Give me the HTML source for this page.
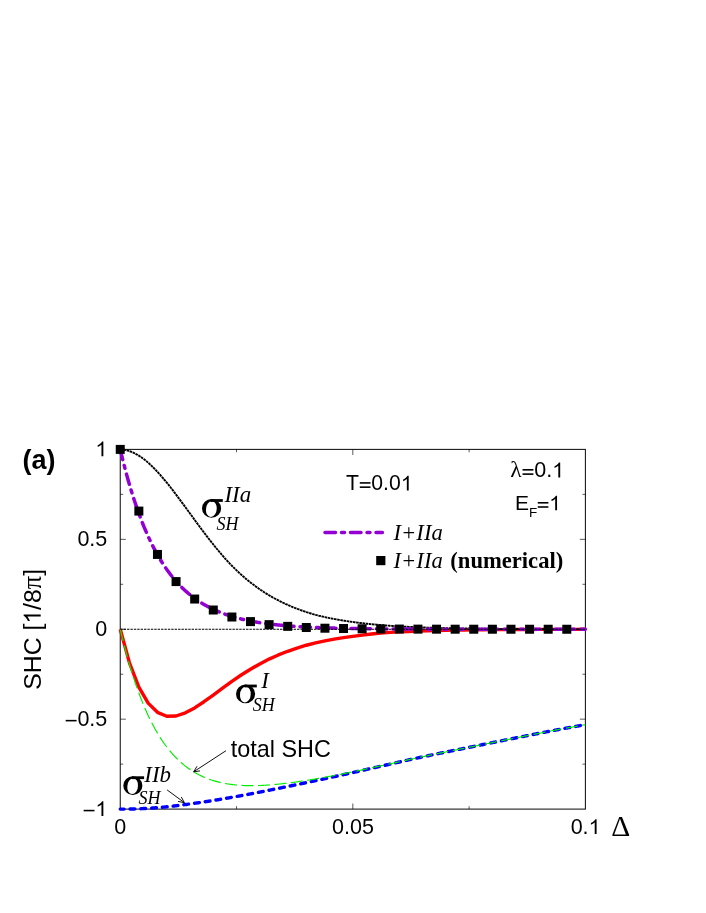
<!DOCTYPE html>
<html><head><meta charset="utf-8"><title>SHC</title>
<style>html,body{margin:0;padding:0;background:#fff;}svg{display:block;}svg{will-change:transform;}text{font-kerning:normal;}</style></head>
<body>
<svg width="706" height="913" viewBox="0 0 706 913">
<rect x="0" y="0" width="706" height="913" fill="#fff"/>
<rect x="120.25" y="449.4" width="465.15" height="359.70" stroke="#111" stroke-width="1.05" fill="none"/>
<g stroke="#000" stroke-width="0.65" fill="none">
<path d="M120.25,764.14 h2.9 M585.4,764.14 h-2.9"/>
<path d="M120.25,719.17 h5.6 M585.4,719.17 h-5.6"/>
<path d="M120.25,674.21 h2.9 M585.4,674.21 h-2.9"/>
<path d="M120.25,629.25 h5.6 M585.4,629.25 h-5.6"/>
<path d="M120.25,584.29 h2.9 M585.4,584.29 h-2.9"/>
<path d="M120.25,539.33 h5.6 M585.4,539.33 h-5.6"/>
<path d="M120.25,494.36 h2.9 M585.4,494.36 h-2.9"/>
<path d="M236.54,809.1 v-2.9 M236.54,449.4 v2.9"/>
<path d="M352.82,809.1 v-5.6 M352.82,449.4 v5.6"/>
<path d="M469.11,809.1 v-2.9 M469.11,449.4 v2.9"/>
</g>
<path d="M120.25,629.25 L129.55,663.15 L138.86,687.22 L148.16,703.13 L157.46,712.32 L166.76,716.24 L176.07,715.99 L185.37,712.84 L194.67,707.89 L203.98,701.74 L213.28,695.07 L222.58,688.14 L231.89,681.30 L241.19,675.01 L250.49,669.21 L259.79,663.90 L269.10,659.11 L278.40,654.94 L287.70,651.27 L297.01,648.03 L306.31,645.24 L315.61,642.84 L324.92,640.81 L334.22,639.11 L343.52,637.67 L352.82,636.39 L362.13,635.14 L371.43,633.97 L380.73,633.06 L390.04,632.41 L399.34,631.88 L408.64,631.44 L417.95,631.07 L427.25,630.76 L436.55,630.51 L445.86,630.30 L455.16,630.13 L464.46,629.98 L473.76,629.86 L483.07,629.76 L492.37,629.67 L501.67,629.60 L510.98,629.54 L520.28,629.49 L529.58,629.45 L538.88,629.42 L548.19,629.39 L557.49,629.37 L566.79,629.35 L576.10,629.33 L585.40,629.32" stroke="#ff0000" stroke-width="3.4" fill="none" stroke-linejoin="round"/>
<path d="M120.25,809.10 L121.18,809.10 L122.11,809.10 L123.04,809.10 L123.97,809.10 L124.90,809.09 L125.83,809.09 L126.76,809.08 L127.69,809.07 L128.62,809.05 L129.55,809.04 L130.48,809.02 L131.41,809.00 L132.34,808.98 L133.27,808.96 L134.20,808.93 L135.13,808.91 L136.07,808.88 L137.00,808.84 L137.93,808.81 L138.86,808.77 L139.79,808.73 L140.72,808.69 L141.65,808.65 L142.58,808.60 L143.51,808.55 L144.44,808.50 L145.37,808.45 L146.30,808.40 L147.23,808.35 L148.16,808.30 L149.09,808.24 L150.02,808.18 L150.95,808.13 L151.88,808.07 L152.81,808.00 L153.74,807.94 L154.67,807.87 L155.60,807.81 L156.53,807.74 L157.46,807.66 L158.39,807.59 L159.32,807.51 L160.25,807.43 L161.18,807.35 L162.11,807.27 L163.04,807.18 L163.97,807.09 L164.90,806.99 L165.83,806.90 L166.76,806.79 L167.70,806.69 L168.63,806.59 L169.56,806.49 L170.49,806.38 L171.42,806.28 L172.35,806.17 L173.28,806.06 L174.21,805.95 L175.14,805.84 L176.07,805.73 L177.00,805.62 L177.93,805.51 L178.86,805.39 L179.79,805.28 L180.72,805.16 L181.65,805.04 L182.58,804.92 L183.51,804.80 L184.44,804.68 L185.37,804.56 L186.30,804.44 L187.23,804.32 L188.16,804.19 L189.09,804.07 L190.02,803.94 L190.95,803.81 L191.88,803.68 L192.81,803.55 L193.74,803.42 L194.67,803.29 L195.60,803.16 L196.53,803.03 L197.46,802.89 L198.40,802.76 L199.33,802.62 L200.26,802.49 L201.19,802.35 L202.12,802.21 L203.05,802.07 L203.98,801.93 L204.91,801.79 L205.84,801.65 L206.77,801.50 L207.70,801.36 L208.63,801.21 L209.56,801.07 L210.49,800.92 L211.42,800.77 L212.35,800.63 L213.28,800.48 L214.21,800.33 L215.14,800.18 L216.07,800.02 L217.00,799.87 L217.93,799.72 L218.86,799.57 L219.79,799.41 L220.72,799.26 L221.65,799.10 L222.58,798.94 L223.51,798.78 L224.44,798.63 L225.37,798.47 L226.30,798.31 L227.23,798.15 L228.16,797.98 L229.10,797.82 L230.03,797.66 L230.96,797.50 L231.89,797.33 L232.82,797.17 L233.75,797.00 L234.68,796.83 L235.61,796.67 L236.54,796.50 L237.47,796.33 L238.40,796.16 L239.33,795.99 L240.26,795.82 L241.19,795.65 L242.12,795.48 L243.05,795.31 L243.98,795.13 L244.91,794.96 L245.84,794.78 L246.77,794.61 L247.70,794.43 L248.63,794.26 L249.56,794.08 L250.49,793.91 L251.42,793.73 L252.35,793.55 L253.28,793.37 L254.21,793.19 L255.14,793.01 L256.07,792.83 L257.00,792.65 L257.93,792.47 L258.86,792.29 L259.80,792.10 L260.73,791.92 L261.66,791.74 L262.59,791.55 L263.52,791.37 L264.45,791.19 L265.38,791.00 L266.31,790.82 L267.24,790.63 L268.17,790.45 L269.10,790.26 L270.03,790.08 L270.96,789.89 L271.89,789.70 L272.82,789.52 L273.75,789.33 L274.68,789.14 L275.61,788.96 L276.54,788.77 L277.47,788.58 L278.40,788.39 L279.33,788.21 L280.26,788.02 L281.19,787.83 L282.12,787.64 L283.05,787.45 L283.98,787.26 L284.91,787.07 L285.84,786.88 L286.77,786.69 L287.70,786.50 L288.63,786.31 L289.56,786.12 L290.49,785.93 L291.43,785.73 L292.36,785.54 L293.29,785.35 L294.22,785.16 L295.15,784.97 L296.08,784.77 L297.01,784.58 L297.94,784.39 L298.87,784.19 L299.80,784.00 L300.73,783.81 L301.66,783.61 L302.59,783.42 L303.52,783.22 L304.45,783.03 L305.38,782.83 L306.31,782.64 L307.24,782.44 L308.17,782.25 L309.10,782.05 L310.03,781.85 L310.96,781.66 L311.89,781.46 L312.82,781.26 L313.75,781.07 L314.68,780.87 L315.61,780.67 L316.54,780.47 L317.47,780.28 L318.40,780.08 L319.33,779.88 L320.26,779.68 L321.19,779.48 L322.13,779.28 L323.06,779.08 L323.99,778.88 L324.92,778.68 L325.85,778.48 L326.78,778.28 L327.71,778.08 L328.64,777.88 L329.57,777.68 L330.50,777.48 L331.43,777.27 L332.36,777.07 L333.29,776.87 L334.22,776.67 L335.15,776.47 L336.08,776.26 L337.01,776.06 L337.94,775.86 L338.87,775.65 L339.80,775.45 L340.73,775.24 L341.66,775.04 L342.59,774.84 L343.52,774.63 L344.45,774.43 L345.38,774.22 L346.31,774.01 L347.24,773.81 L348.17,773.60 L349.10,773.39 L350.03,773.19 L350.96,772.98 L351.89,772.77 L352.82,772.56 L353.76,772.35 L354.69,772.14 L355.62,771.94 L356.55,771.73 L357.48,771.52 L358.41,771.31 L359.34,771.10 L360.27,770.89 L361.20,770.68 L362.13,770.47 L363.06,770.25 L363.99,770.04 L364.92,769.83 L365.85,769.62 L366.78,769.41 L367.71,769.20 L368.64,768.99 L369.57,768.78 L370.50,768.57 L371.43,768.36 L372.36,768.15 L373.29,767.94 L374.22,767.73 L375.15,767.51 L376.08,767.30 L377.01,767.09 L377.94,766.88 L378.87,766.67 L379.80,766.46 L380.73,766.26 L381.66,766.05 L382.59,765.84 L383.52,765.63 L384.46,765.41 L385.39,765.20 L386.32,764.99 L387.25,764.78 L388.18,764.57 L389.11,764.36 L390.04,764.14 L390.97,763.93 L391.90,763.72 L392.83,763.50 L393.76,763.29 L394.69,763.08 L395.62,762.87 L396.55,762.65 L397.48,762.44 L398.41,762.23 L399.34,762.02 L400.27,761.80 L401.20,761.59 L402.13,761.38 L403.06,761.17 L403.99,760.96 L404.92,760.75 L405.85,760.54 L406.78,760.33 L407.71,760.12 L408.64,759.91 L409.57,759.70 L410.50,759.50 L411.43,759.29 L412.36,759.08 L413.29,758.88 L414.22,758.67 L415.16,758.47 L416.09,758.27 L417.02,758.07 L417.95,757.86 L418.88,757.66 L419.81,757.47 L420.74,757.27 L421.67,757.07 L422.60,756.87 L423.53,756.68 L424.46,756.48 L425.39,756.29 L426.32,756.09 L427.25,755.90 L428.18,755.71 L429.11,755.51 L430.04,755.32 L430.97,755.12 L431.90,754.93 L432.83,754.74 L433.76,754.54 L434.69,754.35 L435.62,754.16 L436.55,753.97 L437.48,753.78 L438.41,753.58 L439.34,753.39 L440.27,753.20 L441.20,753.01 L442.13,752.82 L443.06,752.63 L443.99,752.44 L444.92,752.25 L445.86,752.06 L446.79,751.87 L447.72,751.68 L448.65,751.49 L449.58,751.30 L450.51,751.11 L451.44,750.92 L452.37,750.74 L453.30,750.55 L454.23,750.36 L455.16,750.17 L456.09,749.99 L457.02,749.80 L457.95,749.61 L458.88,749.43 L459.81,749.24 L460.74,749.06 L461.67,748.87 L462.60,748.68 L463.53,748.50 L464.46,748.31 L465.39,748.12 L466.32,747.93 L467.25,747.74 L468.18,747.55 L469.11,747.37 L470.04,747.18 L470.97,746.99 L471.90,746.80 L472.83,746.61 L473.76,746.42 L474.69,746.23 L475.62,746.04 L476.55,745.85 L477.49,745.66 L478.42,745.47 L479.35,745.28 L480.28,745.09 L481.21,744.90 L482.14,744.71 L483.07,744.52 L484.00,744.33 L484.93,744.14 L485.86,743.95 L486.79,743.76 L487.72,743.57 L488.65,743.38 L489.58,743.19 L490.51,743.00 L491.44,742.81 L492.37,742.62 L493.30,742.44 L494.23,742.25 L495.16,742.06 L496.09,741.87 L497.02,741.68 L497.95,741.50 L498.88,741.31 L499.81,741.13 L500.74,740.94 L501.67,740.76 L502.60,740.57 L503.53,740.39 L504.46,740.20 L505.39,740.01 L506.32,739.83 L507.25,739.64 L508.19,739.46 L509.12,739.27 L510.05,739.09 L510.98,738.90 L511.91,738.71 L512.84,738.53 L513.77,738.34 L514.70,738.16 L515.63,737.97 L516.56,737.78 L517.49,737.60 L518.42,737.41 L519.35,737.23 L520.28,737.04 L521.21,736.85 L522.14,736.67 L523.07,736.48 L524.00,736.30 L524.93,736.11 L525.86,735.92 L526.79,735.74 L527.72,735.55 L528.65,735.37 L529.58,735.18 L530.51,735.00 L531.44,734.81 L532.37,734.63 L533.30,734.44 L534.23,734.26 L535.16,734.08 L536.09,733.89 L537.02,733.71 L537.95,733.52 L538.88,733.34 L539.82,733.16 L540.75,732.98 L541.68,732.79 L542.61,732.61 L543.54,732.43 L544.47,732.25 L545.40,732.07 L546.33,731.89 L547.26,731.70 L548.19,731.52 L549.12,731.34 L550.05,731.16 L550.98,730.99 L551.91,730.81 L552.84,730.63 L553.77,730.45 L554.70,730.27 L555.63,730.09 L556.56,729.92 L557.49,729.74 L558.42,729.57 L559.35,729.39 L560.28,729.22 L561.21,729.04 L562.14,728.87 L563.07,728.69 L564.00,728.52 L564.93,728.35 L565.86,728.18 L566.79,728.00 L567.72,727.83 L568.65,727.66 L569.58,727.49 L570.52,727.32 L571.45,727.15 L572.38,726.99 L573.31,726.82 L574.24,726.65 L575.17,726.49 L576.10,726.32 L577.03,726.16 L577.96,725.99 L578.89,725.83 L579.82,725.66 L580.75,725.50 L581.68,725.34 L582.61,725.18 L583.54,725.02 L584.47,724.86 L585.40,724.70" stroke="#0000ff" stroke-width="3.4" stroke-dasharray="4.8 6" stroke-dashoffset="1" stroke-linecap="round" fill="none"/>
<path d="M120.25,629.25 L121.18,633.17 L122.11,637.00 L123.04,640.75 L123.97,644.42 L124.90,648.00 L125.83,651.50 L126.76,654.93 L127.69,658.27 L128.62,661.55 L129.55,664.74 L130.48,667.87 L131.41,670.93 L132.34,673.91 L133.27,676.83 L134.20,679.69 L135.13,682.48 L136.07,685.20 L137.00,687.86 L137.93,690.46 L138.86,693.00 L139.79,695.49 L140.72,697.91 L141.65,700.28 L142.58,702.59 L143.51,704.86 L144.44,707.07 L145.37,709.23 L146.30,711.34 L147.23,713.40 L148.16,715.41 L149.09,717.38 L150.02,719.31 L150.95,721.18 L151.88,723.02 L152.81,724.81 L153.74,726.56 L154.67,728.26 L155.60,729.93 L156.53,731.56 L157.46,733.14 L158.39,734.69 L159.32,736.20 L160.25,737.68 L161.18,739.12 L162.11,740.52 L163.04,741.88 L163.97,743.21 L164.90,744.51 L165.83,745.78 L166.76,747.01 L167.70,748.21 L168.63,749.38 L169.56,750.52 L170.49,751.64 L171.42,752.72 L172.35,753.78 L173.28,754.82 L174.21,755.82 L175.14,756.81 L176.07,757.76 L177.00,758.70 L177.93,759.60 L178.86,760.49 L179.79,761.35 L180.72,762.19 L181.65,763.01 L182.58,763.81 L183.51,764.59 L184.44,765.34 L185.37,766.08 L186.30,766.79 L187.23,767.49 L188.16,768.17 L189.09,768.83 L190.02,769.47 L190.95,770.09 L191.88,770.70 L192.81,771.29 L193.74,771.86 L194.67,772.42 L195.60,772.96 L196.53,773.48 L197.46,773.99 L198.40,774.49 L199.33,774.97 L200.26,775.43 L201.19,775.88 L202.12,776.32 L203.05,776.75 L203.98,777.16 L204.91,777.55 L205.84,777.94 L206.77,778.31 L207.70,778.68 L208.63,779.02 L209.56,779.36 L210.49,779.69 L211.42,780.00 L212.35,780.31 L213.28,780.60 L214.21,780.88 L215.14,781.16 L216.07,781.42 L217.00,781.67 L217.93,781.92 L218.86,782.15 L219.79,782.38 L220.72,782.59 L221.65,782.80 L222.58,783.00 L223.51,783.19 L224.44,783.37 L225.37,783.54 L226.30,783.71 L227.23,783.86 L228.16,784.01 L229.10,784.15 L230.03,784.29 L230.96,784.42 L231.89,784.54 L232.82,784.65 L233.75,784.76 L234.68,784.86 L235.61,784.95 L236.54,785.04 L237.47,785.12 L238.40,785.20 L239.33,785.26 L240.26,785.33 L241.19,785.39 L242.12,785.44 L243.05,785.48 L243.98,785.52 L244.91,785.56 L245.84,785.59 L246.77,785.62 L247.70,785.64 L248.63,785.65 L249.56,785.66 L250.49,785.67 L251.42,785.67 L252.35,785.67 L253.28,785.66 L254.21,785.65 L255.14,785.63 L256.07,785.61 L257.00,785.59 L257.93,785.56 L258.86,785.53 L259.80,785.50 L260.73,785.46 L261.66,785.42 L262.59,785.37 L263.52,785.32 L264.45,785.27 L265.38,785.21 L266.31,785.15 L267.24,785.09 L268.17,785.03 L269.10,784.96 L270.03,784.89 L270.96,784.82 L271.89,784.74 L272.82,784.66 L273.75,784.58 L274.68,784.50 L275.61,784.41 L276.54,784.32 L277.47,784.23 L278.40,784.14 L279.33,784.04 L280.26,783.95 L281.19,783.85 L282.12,783.74 L283.05,783.64 L283.98,783.53 L284.91,783.42 L285.84,783.31 L286.77,783.20 L287.70,783.09 L288.63,782.97 L289.56,782.85 L290.49,782.73 L291.43,782.61 L292.36,782.49 L293.29,782.36 L294.22,782.23 L295.15,782.11 L296.08,781.97 L297.01,781.84 L297.94,781.71 L298.87,781.57 L299.80,781.44 L300.73,781.30 L301.66,781.16 L302.59,781.02 L303.52,780.88 L304.45,780.73 L305.38,780.59 L306.31,780.44 L307.24,780.29 L308.17,780.14 L309.10,779.99 L310.03,779.84 L310.96,779.69 L311.89,779.54 L312.82,779.38 L313.75,779.22 L314.68,779.07 L315.61,778.91 L316.54,778.75 L317.47,778.59 L318.40,778.43 L319.33,778.26 L320.26,778.10 L321.19,777.94 L322.13,777.77 L323.06,777.60 L323.99,777.44 L324.92,777.27 L325.85,777.10 L326.78,776.93 L327.71,776.76 L328.64,776.58 L329.57,776.41 L330.50,776.24 L331.43,776.06 L332.36,775.89 L333.29,775.71 L334.22,775.53 L335.15,775.36 L336.08,775.18 L337.01,775.00 L337.94,774.82 L338.87,774.64 L339.80,774.46 L340.73,774.27 L341.66,774.09 L342.59,773.91 L343.52,773.72 L344.45,773.54 L345.38,773.35 L346.31,773.16 L347.24,772.97 L348.17,772.79 L349.10,772.60 L350.03,772.41 L350.96,772.22 L351.89,772.02 L352.82,771.83 L353.76,771.64 L354.69,771.45 L355.62,771.25 L356.55,771.06 L357.48,770.86 L358.41,770.67 L359.34,770.47 L360.27,770.27 L361.20,770.08 L362.13,769.88 L363.06,769.68 L363.99,769.48 L364.92,769.28 L365.85,769.09 L366.78,768.89 L367.71,768.69 L368.64,768.49 L369.57,768.29 L370.50,768.09 L371.43,767.89 L372.36,767.69 L373.29,767.49 L374.22,767.29 L375.15,767.08 L376.08,766.88 L377.01,766.68 L377.94,766.48 L378.87,766.28 L379.80,766.08 L380.73,765.88 L381.66,765.68 L382.59,765.48 L383.52,765.27 L384.46,765.07 L385.39,764.87 L386.32,764.66 L387.25,764.46 L388.18,764.25 L389.11,764.05 L390.04,763.84 L390.97,763.63 L391.90,763.43 L392.83,763.22 L393.76,763.01 L394.69,762.81 L395.62,762.60 L396.55,762.39 L397.48,762.19 L398.41,761.98 L399.34,761.77 L400.27,761.57 L401.20,761.36 L402.13,761.15 L403.06,760.95 L403.99,760.74 L404.92,760.54 L405.85,760.33 L406.78,760.13 L407.71,759.92 L408.64,759.72 L409.57,759.51 L410.50,759.31 L411.43,759.11 L412.36,758.91 L413.29,758.70 L414.22,758.50 L415.16,758.30 L416.09,758.10 L417.02,757.91 L417.95,757.71 L418.88,757.51 L419.81,757.32 L420.74,757.12 L421.67,756.93 L422.60,756.73 L423.53,756.54 L424.46,756.35 L425.39,756.16 L426.32,755.97 L427.25,755.77 L428.18,755.58 L429.11,755.39 L430.04,755.20 L430.97,755.01 L431.90,754.82 L432.83,754.63 L433.76,754.44 L434.69,754.25 L435.62,754.06 L436.55,753.87 L437.48,753.68 L438.41,753.49 L439.34,753.30 L440.27,753.11 L441.20,752.92 L442.13,752.73 L443.06,752.54 L443.99,752.35 L444.92,752.17 L445.86,751.98 L446.79,751.79 L447.72,751.60 L448.65,751.41 L449.58,751.23 L450.51,751.04 L451.44,750.85 L452.37,750.67 L453.30,750.48 L454.23,750.30 L455.16,750.11 L456.09,749.92 L457.02,749.74 L457.95,749.55 L458.88,749.37 L459.81,749.18 L460.74,749.00 L461.67,748.81 L462.60,748.63 L463.53,748.44 L464.46,748.26 L465.39,748.07 L466.32,747.88 L467.25,747.69 L468.18,747.51 L469.11,747.32 L470.04,747.13 L470.97,746.94 L471.90,746.75 L472.83,746.57 L473.76,746.38 L474.69,746.19 L475.62,746.00 L476.55,745.81 L477.49,745.62 L478.42,745.43 L479.35,745.24 L480.28,745.05 L481.21,744.86 L482.14,744.67 L483.07,744.48 L484.00,744.29 L484.93,744.11 L485.86,743.92 L486.79,743.73 L487.72,743.54 L488.65,743.35 L489.58,743.16 L490.51,742.97 L491.44,742.78 L492.37,742.60 L493.30,742.41 L494.23,742.22 L495.16,742.03 L496.09,741.85 L497.02,741.66 L497.95,741.47 L498.88,741.29 L499.81,741.10 L500.74,740.92 L501.67,740.73 L502.60,740.55 L503.53,740.36 L504.46,740.18 L505.39,739.99 L506.32,739.81 L507.25,739.62 L508.19,739.44 L509.12,739.25 L510.05,739.07 L510.98,738.88 L511.91,738.70 L512.84,738.51 L513.77,738.33 L514.70,738.14 L515.63,737.95 L516.56,737.77 L517.49,737.58 L518.42,737.40 L519.35,737.21 L520.28,737.03 L521.21,736.84 L522.14,736.65 L523.07,736.47 L524.00,736.28 L524.93,736.10 L525.86,735.91 L526.79,735.73 L527.72,735.54 L528.65,735.36 L529.58,735.17 L530.51,734.99 L531.44,734.80 L532.37,734.62 L533.30,734.43 L534.23,734.25 L535.16,734.07 L536.09,733.88 L537.02,733.70 L537.95,733.52 L538.88,733.33 L539.82,733.15 L540.75,732.97 L541.68,732.78 L542.61,732.60 L543.54,732.42 L544.47,732.24 L545.40,732.06 L546.33,731.88 L547.26,731.70 L548.19,731.52 L549.12,731.34 L550.05,731.16 L550.98,730.98 L551.91,730.80 L552.84,730.62 L553.77,730.44 L554.70,730.27 L555.63,730.09 L556.56,729.91 L557.49,729.74 L558.42,729.56 L559.35,729.38 L560.28,729.21 L561.21,729.04 L562.14,728.86 L563.07,728.69 L564.00,728.51 L564.93,728.34 L565.86,728.17 L566.79,728.00 L567.72,727.83 L568.65,727.66 L569.58,727.49 L570.52,727.32 L571.45,727.15 L572.38,726.98 L573.31,726.81 L574.24,726.65 L575.17,726.48 L576.10,726.32 L577.03,726.15 L577.96,725.99 L578.89,725.82 L579.82,725.66 L580.75,725.50 L581.68,725.34 L582.61,725.18 L583.54,725.02 L584.47,724.86 L585.40,724.70" stroke="#00ee00" stroke-width="1.15" stroke-dasharray="12 4.5" fill="none"/>
<path d="M120.25,449.40 L121.18,449.44 L122.11,449.52 L123.04,449.62 L123.97,449.75 L124.90,449.92 L125.83,450.11 L126.76,450.33 L127.69,450.57 L128.62,450.85 L129.55,451.16 L130.48,451.49 L131.41,451.85 L132.34,452.24 L133.27,452.65 L134.20,453.09 L135.13,453.56 L136.07,454.05 L137.00,454.56 L137.93,455.11 L138.86,455.67 L139.79,456.26 L140.72,456.88 L141.65,457.52 L142.58,458.19 L143.51,458.88 L144.44,459.59 L145.37,460.33 L146.30,461.09 L147.23,461.88 L148.16,462.68 L149.09,463.51 L150.02,464.36 L150.95,465.23 L151.88,466.12 L152.81,467.03 L153.74,467.96 L154.67,468.91 L155.60,469.87 L156.53,470.86 L157.46,471.86 L158.39,472.87 L159.32,473.90 L160.25,474.95 L161.18,476.01 L162.11,477.08 L163.04,478.17 L163.97,479.26 L164.90,480.37 L165.83,481.49 L166.76,482.62 L167.70,483.77 L168.63,484.93 L169.56,486.10 L170.49,487.28 L171.42,488.47 L172.35,489.68 L173.28,490.89 L174.21,492.12 L175.14,493.35 L176.07,494.60 L177.00,495.84 L177.93,497.09 L178.86,498.35 L179.79,499.60 L180.72,500.86 L181.65,502.12 L182.58,503.38 L183.51,504.65 L184.44,505.91 L185.37,507.18 L186.30,508.44 L187.23,509.70 L188.16,510.97 L189.09,512.24 L190.02,513.51 L190.95,514.79 L191.88,516.06 L192.81,517.34 L193.74,518.63 L194.67,519.91 L195.60,521.19 L196.53,522.47 L197.46,523.75 L198.40,525.02 L199.33,526.28 L200.26,527.54 L201.19,528.78 L202.12,530.02 L203.05,531.26 L203.98,532.49 L204.91,533.72 L205.84,534.93 L206.77,536.15 L207.70,537.35 L208.63,538.55 L209.56,539.75 L210.49,540.93 L211.42,542.11 L212.35,543.28 L213.28,544.44 L214.21,545.59 L215.14,546.74 L216.07,547.88 L217.00,549.01 L217.93,550.13 L218.86,551.25 L219.79,552.36 L220.72,553.46 L221.65,554.54 L222.58,555.62 L223.51,556.68 L224.44,557.74 L225.37,558.78 L226.30,559.81 L227.23,560.83 L228.16,561.84 L229.10,562.83 L230.03,563.82 L230.96,564.79 L231.89,565.74 L232.82,566.69 L233.75,567.62 L234.68,568.54 L235.61,569.44 L236.54,570.34 L237.47,571.22 L238.40,572.08 L239.33,572.94 L240.26,573.79 L241.19,574.63 L242.12,575.45 L243.05,576.27 L243.98,577.07 L244.91,577.87 L245.84,578.65 L246.77,579.42 L247.70,580.19 L248.63,580.94 L249.56,581.69 L250.49,582.42 L251.42,583.15 L252.35,583.87 L253.28,584.57 L254.21,585.27 L255.14,585.96 L256.07,586.65 L257.00,587.32 L257.93,587.99 L258.86,588.65 L259.80,589.30 L260.73,589.94 L261.66,590.57 L262.59,591.20 L263.52,591.81 L264.45,592.42 L265.38,593.02 L266.31,593.60 L267.24,594.18 L268.17,594.75 L269.10,595.31 L270.03,595.86 L270.96,596.40 L271.89,596.93 L272.82,597.46 L273.75,597.97 L274.68,598.48 L275.61,598.98 L276.54,599.47 L277.47,599.96 L278.40,600.44 L279.33,600.91 L280.26,601.38 L281.19,601.84 L282.12,602.29 L283.05,602.74 L283.98,603.18 L284.91,603.62 L285.84,604.05 L286.77,604.47 L287.70,604.90 L288.63,605.31 L289.56,605.72 L290.49,606.12 L291.43,606.52 L292.36,606.91 L293.29,607.30 L294.22,607.67 L295.15,608.05 L296.08,608.41 L297.01,608.77 L297.94,609.13 L298.87,609.48 L299.80,609.82 L300.73,610.16 L301.66,610.49 L302.59,610.81 L303.52,611.14 L304.45,611.45 L305.38,611.76 L306.31,612.07 L307.24,612.37 L308.17,612.66 L309.10,612.95 L310.03,613.24 L310.96,613.51 L311.89,613.79 L312.82,614.06 L313.75,614.32 L314.68,614.58 L315.61,614.83 L316.54,615.08 L317.47,615.32 L318.40,615.56 L319.33,615.80 L320.26,616.03 L321.19,616.25 L322.13,616.47 L323.06,616.69 L323.99,616.91 L324.92,617.12 L325.85,617.32 L326.78,617.52 L327.71,617.72 L328.64,617.92 L329.57,618.11 L330.50,618.30 L331.43,618.48 L332.36,618.66 L333.29,618.84 L334.22,619.02 L335.15,619.19 L336.08,619.36 L337.01,619.52 L337.94,619.69 L338.87,619.85 L339.80,620.01 L340.73,620.16 L341.66,620.31 L342.59,620.47 L343.52,620.61 L344.45,620.76 L345.38,620.90 L346.31,621.05 L347.24,621.18 L348.17,621.32 L349.10,621.46 L350.03,621.59 L350.96,621.72 L351.89,621.85 L352.82,621.98 L353.76,622.11 L354.69,622.24 L355.62,622.36 L356.55,622.48 L357.48,622.60 L358.41,622.72 L359.34,622.83 L360.27,622.95 L361.20,623.06 L362.13,623.17 L363.06,623.28 L363.99,623.39 L364.92,623.49 L365.85,623.60 L366.78,623.70 L367.71,623.80 L368.64,623.90 L369.57,624.00 L370.50,624.10 L371.43,624.19 L372.36,624.28 L373.29,624.38 L374.22,624.47 L375.15,624.56 L376.08,624.64 L377.01,624.73 L377.94,624.81 L378.87,624.90 L379.80,624.98 L380.73,625.06 L381.66,625.14 L382.59,625.22 L383.52,625.29 L384.46,625.37 L385.39,625.44 L386.32,625.51 L387.25,625.58 L388.18,625.65 L389.11,625.72 L390.04,625.79 L390.97,625.85 L391.90,625.92 L392.83,625.98 L393.76,626.04 L394.69,626.10 L395.62,626.16 L396.55,626.22 L397.48,626.27 L398.41,626.33 L399.34,626.38 L400.27,626.43 L401.20,626.49 L402.13,626.54 L403.06,626.59 L403.99,626.64 L404.92,626.68 L405.85,626.73 L406.78,626.78 L407.71,626.82 L408.64,626.87 L409.57,626.91 L410.50,626.95 L411.43,627.00 L412.36,627.04 L413.29,627.08 L414.22,627.12 L415.16,627.16 L416.09,627.20 L417.02,627.24 L417.95,627.27 L418.88,627.31 L419.81,627.35 L420.74,627.38 L421.67,627.42 L422.60,627.45 L423.53,627.48 L424.46,627.52 L425.39,627.55 L426.32,627.58 L427.25,627.61 L428.18,627.64 L429.11,627.67 L430.04,627.70 L430.97,627.73 L431.90,627.76 L432.83,627.78 L433.76,627.81 L434.69,627.84 L435.62,627.86 L436.55,627.89 L437.48,627.91 L438.41,627.94 L439.34,627.96 L440.27,627.99 L441.20,628.01 L442.13,628.03 L443.06,628.06 L443.99,628.08 L444.92,628.10 L445.86,628.12 L446.79,628.14 L447.72,628.16 L448.65,628.18 L449.58,628.20 L450.51,628.22 L451.44,628.24 L452.37,628.26 L453.30,628.27 L454.23,628.29 L455.16,628.31 L456.09,628.33 L457.02,628.34 L457.95,628.36 L458.88,628.38 L459.81,628.39 L460.74,628.41 L461.67,628.42 L462.60,628.44 L463.53,628.45 L464.46,628.47 L465.39,628.48 L466.32,628.50 L467.25,628.51 L468.18,628.52 L469.11,628.54 L470.04,628.55 L470.97,628.56 L471.90,628.58 L472.83,628.59 L473.76,628.60 L474.69,628.61 L475.62,628.62 L476.55,628.64 L477.49,628.65 L478.42,628.66 L479.35,628.67 L480.28,628.68 L481.21,628.69 L482.14,628.70 L483.07,628.71 L484.00,628.72 L484.93,628.73 L485.86,628.74 L486.79,628.75 L487.72,628.76 L488.65,628.77 L489.58,628.78 L490.51,628.78 L491.44,628.79 L492.37,628.80 L493.30,628.81 L494.23,628.82 L495.16,628.83 L496.09,628.83 L497.02,628.84 L497.95,628.85 L498.88,628.86 L499.81,628.86 L500.74,628.87 L501.67,628.88 L502.60,628.88 L503.53,628.89 L504.46,628.90 L505.39,628.90 L506.32,628.91 L507.25,628.92 L508.19,628.92 L509.12,628.93 L510.05,628.93 L510.98,628.94 L511.91,628.95 L512.84,628.95 L513.77,628.96 L514.70,628.96 L515.63,628.97 L516.56,628.97 L517.49,628.98 L518.42,628.98 L519.35,628.99 L520.28,628.99 L521.21,629.00 L522.14,629.00 L523.07,629.01 L524.00,629.01 L524.93,629.01 L525.86,629.02 L526.79,629.02 L527.72,629.03 L528.65,629.03 L529.58,629.04 L530.51,629.04 L531.44,629.04 L532.37,629.05 L533.30,629.05 L534.23,629.05 L535.16,629.06 L536.09,629.06 L537.02,629.07 L537.95,629.07 L538.88,629.07 L539.82,629.08 L540.75,629.08 L541.68,629.08 L542.61,629.08 L543.54,629.09 L544.47,629.09 L545.40,629.09 L546.33,629.10 L547.26,629.10 L548.19,629.10 L549.12,629.10 L550.05,629.11 L550.98,629.11 L551.91,629.11 L552.84,629.11 L553.77,629.12 L554.70,629.12 L555.63,629.12 L556.56,629.12 L557.49,629.13 L558.42,629.13 L559.35,629.13 L560.28,629.13 L561.21,629.14 L562.14,629.14 L563.07,629.14 L564.00,629.14 L564.93,629.14 L565.86,629.15 L566.79,629.15 L567.72,629.15 L568.65,629.15 L569.58,629.15 L570.52,629.15 L571.45,629.16 L572.38,629.16 L573.31,629.16 L574.24,629.16 L575.17,629.16 L576.10,629.16 L577.03,629.17 L577.96,629.17 L578.89,629.17 L579.82,629.17 L580.75,629.17 L581.68,629.17 L582.61,629.18 L583.54,629.18 L584.47,629.18 L585.40,629.18" stroke="#000" stroke-width="1.9" stroke-dasharray="2.6 0.6" fill="none"/>
<path d="M120.25,449.40 L121.18,453.32 L122.11,457.15 L123.04,460.90 L123.97,464.57 L124.90,468.16 L125.83,471.67 L126.76,475.10 L127.69,478.46 L128.62,481.74 L129.55,484.96 L130.48,488.10 L131.41,491.17 L132.34,494.18 L133.27,497.12 L134.20,500.00 L135.13,502.82 L136.07,505.57 L137.00,508.27 L137.93,510.90 L138.86,513.48 L139.79,516.00 L140.72,518.47 L141.65,520.88 L142.58,523.24 L143.51,525.55 L144.44,527.81 L145.37,530.02 L146.30,532.18 L147.23,534.30 L148.16,536.37 L149.09,538.39 L150.02,540.37 L150.95,542.31 L151.88,544.20 L152.81,546.05 L153.74,547.87 L154.67,549.64 L155.60,551.37 L156.53,553.07 L157.46,554.73 L158.39,556.35 L159.32,557.94 L160.25,559.50 L161.18,561.01 L162.11,562.50 L163.04,563.96 L163.97,565.38 L164.90,566.77 L165.83,568.13 L166.76,569.46 L167.70,570.76 L168.63,572.04 L169.56,573.29 L170.49,574.50 L171.42,575.70 L172.35,576.86 L173.28,578.01 L174.21,579.12 L175.14,580.21 L176.07,581.28 L177.00,582.33 L177.93,583.35 L178.86,584.35 L179.79,585.33 L180.72,586.28 L181.65,587.22 L182.58,588.14 L183.51,589.03 L184.44,589.91 L185.37,590.76 L186.30,591.60 L187.23,592.42 L188.16,593.23 L189.09,594.01 L190.02,594.78 L190.95,595.53 L191.88,596.26 L192.81,596.98 L193.74,597.69 L194.67,598.37 L195.60,599.05 L196.53,599.70 L197.46,600.35 L198.40,600.98 L199.33,601.59 L200.26,602.20 L201.19,602.78 L202.12,603.36 L203.05,603.93 L203.98,604.48 L204.91,605.02 L205.84,605.54 L206.77,606.06 L207.70,606.57 L208.63,607.06 L209.56,607.54 L210.49,608.02 L211.42,608.48 L212.35,608.93 L213.28,609.37 L214.21,609.81 L215.14,610.23 L216.07,610.65 L217.00,611.05 L217.93,611.45 L218.86,611.84 L219.79,612.21 L220.72,612.59 L221.65,612.95 L222.58,613.30 L223.51,613.65 L224.44,613.99 L225.37,614.32 L226.30,614.65 L227.23,614.97 L228.16,615.28 L229.10,615.58 L230.03,615.88 L230.96,616.17 L231.89,616.46 L232.82,616.74 L233.75,617.01 L234.68,617.27 L235.61,617.54 L236.54,617.79 L237.47,618.04 L238.40,618.28 L239.33,618.52 L240.26,618.76 L241.19,618.99 L242.12,619.21 L243.05,619.43 L243.98,619.64 L244.91,619.85 L245.84,620.06 L246.77,620.26 L247.70,620.45 L248.63,620.64 L249.56,620.83 L250.49,621.01 L251.42,621.19 L252.35,621.37 L253.28,621.54 L254.21,621.71 L255.14,621.87 L256.07,622.03 L257.00,622.19 L257.93,622.35 L258.86,622.50 L259.80,622.64 L260.73,622.79 L261.66,622.93 L262.59,623.07 L263.52,623.20 L264.45,623.33 L265.38,623.46 L266.31,623.59 L267.24,623.71 L268.17,623.83 L269.10,623.95 L270.03,624.06 L270.96,624.18 L271.89,624.29 L272.82,624.40 L273.75,624.50 L274.68,624.61 L275.61,624.71 L276.54,624.81 L277.47,624.90 L278.40,625.00 L279.33,625.09 L280.26,625.18 L281.19,625.27 L282.12,625.36 L283.05,625.44 L283.98,625.52 L284.91,625.60 L285.84,625.68 L286.77,625.76 L287.70,625.84 L288.63,625.91 L289.56,625.98 L290.49,626.06 L291.43,626.13 L292.36,626.19 L293.29,626.26 L294.22,626.33 L295.15,626.39 L296.08,626.45 L297.01,626.51 L297.94,626.57 L298.87,626.63 L299.80,626.69 L300.73,626.74 L301.66,626.80 L302.59,626.85 L303.52,626.90 L304.45,626.95 L305.38,627.00 L306.31,627.05 L307.24,627.10 L308.17,627.15 L309.10,627.19 L310.03,627.24 L310.96,627.28 L311.89,627.33 L312.82,627.37 L313.75,627.41 L314.68,627.45 L315.61,627.49 L316.54,627.53 L317.47,627.56 L318.40,627.60 L319.33,627.64 L320.26,627.67 L321.19,627.71 L322.13,627.74 L323.06,627.77 L323.99,627.80 L324.92,627.84 L325.85,627.87 L326.78,627.90 L327.71,627.93 L328.64,627.96 L329.57,627.98 L330.50,628.01 L331.43,628.04 L332.36,628.06 L333.29,628.09 L334.22,628.12 L335.15,628.14 L336.08,628.16 L337.01,628.19 L337.94,628.21 L338.87,628.23 L339.80,628.26 L340.73,628.28 L341.66,628.30 L342.59,628.32 L343.52,628.34 L344.45,628.36 L345.38,628.38 L346.31,628.40 L347.24,628.42 L348.17,628.43 L349.10,628.45 L350.03,628.47 L350.96,628.49 L351.89,628.50 L352.82,628.52 L353.76,628.54 L354.69,628.55 L355.62,628.57 L356.55,628.58 L357.48,628.60 L358.41,628.61 L359.34,628.62 L360.27,628.64 L361.20,628.65 L362.13,628.66 L363.06,628.68 L363.99,628.69 L364.92,628.70 L365.85,628.71 L366.78,628.73 L367.71,628.74 L368.64,628.75 L369.57,628.76 L370.50,628.77 L371.43,628.78 L372.36,628.79 L373.29,628.80 L374.22,628.81 L375.15,628.82 L376.08,628.83 L377.01,628.84 L377.94,628.85 L378.87,628.86 L379.80,628.86 L380.73,628.87 L381.66,628.88 L382.59,628.89 L383.52,628.90 L384.46,628.90 L385.39,628.91 L386.32,628.92 L387.25,628.93 L388.18,628.93 L389.11,628.94 L390.04,628.95 L390.97,628.95 L391.90,628.96 L392.83,628.97 L393.76,628.97 L394.69,628.98 L395.62,628.98 L396.55,628.99 L397.48,629.00 L398.41,629.00 L399.34,629.01 L400.27,629.01 L401.20,629.02 L402.13,629.02 L403.06,629.03 L403.99,629.03 L404.92,629.04 L405.85,629.04 L406.78,629.05 L407.71,629.05 L408.64,629.06 L409.57,629.06 L410.50,629.06 L411.43,629.07 L412.36,629.07 L413.29,629.08 L414.22,629.08 L415.16,629.08 L416.09,629.09 L417.02,629.09 L417.95,629.09 L418.88,629.10 L419.81,629.10 L420.74,629.10 L421.67,629.11 L422.60,629.11 L423.53,629.11 L424.46,629.12 L425.39,629.12 L426.32,629.12 L427.25,629.12 L428.18,629.13 L429.11,629.13 L430.04,629.13 L430.97,629.14 L431.90,629.14 L432.83,629.14 L433.76,629.14 L434.69,629.14 L435.62,629.15 L436.55,629.15 L437.48,629.15 L438.41,629.15 L439.34,629.16 L440.27,629.16 L441.20,629.16 L442.13,629.16 L443.06,629.16 L443.99,629.17 L444.92,629.17 L445.86,629.17 L446.79,629.17 L447.72,629.17 L448.65,629.17 L449.58,629.18 L450.51,629.18 L451.44,629.18 L452.37,629.18 L453.30,629.18 L454.23,629.18 L455.16,629.19 L456.09,629.19 L457.02,629.19 L457.95,629.19 L458.88,629.19 L459.81,629.19 L460.74,629.19 L461.67,629.19 L462.60,629.20 L463.53,629.20 L464.46,629.20 L465.39,629.20 L466.32,629.20 L467.25,629.20 L468.18,629.20 L469.11,629.20 L470.04,629.20 L470.97,629.21 L471.90,629.21 L472.83,629.21 L473.76,629.21 L474.69,629.21 L475.62,629.21 L476.55,629.21 L477.49,629.21 L478.42,629.21 L479.35,629.21 L480.28,629.21 L481.21,629.22 L482.14,629.22 L483.07,629.22 L484.00,629.22 L484.93,629.22 L485.86,629.22 L486.79,629.22 L487.72,629.22 L488.65,629.22 L489.58,629.22 L490.51,629.22 L491.44,629.22 L492.37,629.22 L493.30,629.22 L494.23,629.22 L495.16,629.22 L496.09,629.23 L497.02,629.23 L497.95,629.23 L498.88,629.23 L499.81,629.23 L500.74,629.23 L501.67,629.23 L502.60,629.23 L503.53,629.23 L504.46,629.23 L505.39,629.23 L506.32,629.23 L507.25,629.23 L508.19,629.23 L509.12,629.23 L510.05,629.23 L510.98,629.23 L511.91,629.23 L512.84,629.23 L513.77,629.23 L514.70,629.23 L515.63,629.23 L516.56,629.23 L517.49,629.24 L518.42,629.24 L519.35,629.24 L520.28,629.24 L521.21,629.24 L522.14,629.24 L523.07,629.24 L524.00,629.24 L524.93,629.24 L525.86,629.24 L526.79,629.24 L527.72,629.24 L528.65,629.24 L529.58,629.24 L530.51,629.24 L531.44,629.24 L532.37,629.24 L533.30,629.24 L534.23,629.24 L535.16,629.24 L536.09,629.24 L537.02,629.24 L537.95,629.24 L538.88,629.24 L539.82,629.24 L540.75,629.24 L541.68,629.24 L542.61,629.24 L543.54,629.24 L544.47,629.24 L545.40,629.24 L546.33,629.24 L547.26,629.24 L548.19,629.24 L549.12,629.24 L550.05,629.24 L550.98,629.24 L551.91,629.24 L552.84,629.24 L553.77,629.24 L554.70,629.24 L555.63,629.24 L556.56,629.24 L557.49,629.24 L558.42,629.24 L559.35,629.24 L560.28,629.24 L561.21,629.24 L562.14,629.24 L563.07,629.24 L564.00,629.25 L564.93,629.25 L565.86,629.25 L566.79,629.25 L567.72,629.25 L568.65,629.25 L569.58,629.25 L570.52,629.25 L571.45,629.25 L572.38,629.25 L573.31,629.25 L574.24,629.25 L575.17,629.25 L576.10,629.25 L577.03,629.25 L577.96,629.25 L578.89,629.25 L579.82,629.25 L580.75,629.25 L581.68,629.25 L582.61,629.25 L583.54,629.25 L584.47,629.25 L585.40,629.25" stroke="#9400d3" stroke-width="3.5" stroke-dasharray="10.5 6 3 6" stroke-linecap="round" fill="none"/>
<path d="M120.25,629.25 H585.4" stroke="#000" stroke-width="1.05" stroke-dasharray="2.4 1" fill="none"/>
<rect x="115.75" y="444.90" width="9.0" height="9.0" fill="#000"/>
<rect x="134.36" y="506.59" width="9.0" height="9.0" fill="#000"/>
<rect x="152.96" y="549.93" width="9.0" height="9.0" fill="#000"/>
<rect x="171.57" y="577.09" width="9.0" height="9.0" fill="#000"/>
<rect x="190.17" y="594.54" width="9.0" height="9.0" fill="#000"/>
<rect x="208.78" y="605.51" width="9.0" height="9.0" fill="#000"/>
<rect x="227.39" y="612.52" width="9.0" height="9.0" fill="#000"/>
<rect x="245.99" y="617.11" width="9.0" height="9.0" fill="#000"/>
<rect x="264.60" y="620.15" width="9.0" height="9.0" fill="#000"/>
<rect x="283.20" y="621.85" width="9.0" height="9.0" fill="#000"/>
<rect x="301.81" y="623.01" width="9.0" height="9.0" fill="#000"/>
<rect x="320.42" y="623.71" width="9.0" height="9.0" fill="#000"/>
<rect x="339.02" y="624.02" width="9.0" height="9.0" fill="#000"/>
<rect x="357.63" y="624.28" width="9.0" height="9.0" fill="#000"/>
<rect x="376.23" y="624.45" width="9.0" height="9.0" fill="#000"/>
<rect x="394.84" y="624.56" width="9.0" height="9.0" fill="#000"/>
<rect x="413.45" y="624.63" width="9.0" height="9.0" fill="#000"/>
<rect x="432.05" y="624.67" width="9.0" height="9.0" fill="#000"/>
<rect x="450.66" y="624.70" width="9.0" height="9.0" fill="#000"/>
<rect x="469.26" y="624.72" width="9.0" height="9.0" fill="#000"/>
<rect x="487.87" y="624.73" width="9.0" height="9.0" fill="#000"/>
<rect x="506.48" y="624.74" width="9.0" height="9.0" fill="#000"/>
<rect x="525.08" y="624.74" width="9.0" height="9.0" fill="#000"/>
<rect x="543.69" y="624.74" width="9.0" height="9.0" fill="#000"/>
<rect x="562.29" y="624.75" width="9.0" height="9.0" fill="#000"/>
<path d="M325,532.5 H382.4" stroke="#9400d3" stroke-width="3.5" stroke-dasharray="10.5 6 3 6" stroke-linecap="round" fill="none"/>
<rect x="376.2" y="556" width="9.2" height="9.2" fill="#000"/>
<path d="M226,750.7 L193.6,771.8 M197.04,766.28 L193.6,771.8 M200.04,770.89 L193.6,771.8" stroke="#111" stroke-width="1" fill="none"/>
<path d="M167.1,789.9 L184.4,802.7 M178.03,801.40 L184.4,802.7 M181.30,796.99 L184.4,802.7" stroke="#111" stroke-width="1" fill="none"/>
<path transform="translate(95.34,456.30) scale(0.01050,-0.01005)" d="M763,0 H583 V1147 Q518,1085 412.5,1023 Q307,961 223,930 V1104 Q374,1175 487,1276 Q600,1377 647,1472 H763 Z" fill="#000"/>
<text x="77.41" y="546.23" font-size="21.5" font-family="Liberation Sans, sans-serif" fill="#000">0.5</text>
<text x="95.34" y="636.15" font-size="21.5" font-family="Liberation Sans, sans-serif" fill="#000">0</text>
<rect x="65.69" y="719.86" width="10.88" height="1.57" fill="#000"/>
<text x="77.41" y="726.07" font-size="21.5" font-family="Liberation Sans, sans-serif" fill="#000">0.5</text>
<rect x="83.63" y="809.79" width="10.88" height="1.57" fill="#000"/>
<path transform="translate(95.34,816.00) scale(0.01050,-0.01005)" d="M763,0 H583 V1147 Q518,1085 412.5,1023 Q307,961 223,930 V1104 Q374,1175 487,1276 Q600,1377 647,1472 H763 Z" fill="#000"/>
<text x="114.22" y="834.1" font-size="21.5" font-family="Liberation Sans, sans-serif" fill="#000">0</text>
<text x="332.08" y="834.1" font-size="21.5" font-family="Liberation Sans, sans-serif" fill="#000">0.05</text>
<text x="570.66" y="834.1" font-size="21.5" font-family="Liberation Sans, sans-serif" fill="#000">0.</text>
<path transform="translate(588.59,834.10) scale(0.01050,-0.01005)" d="M763,0 H583 V1147 Q518,1085 412.5,1023 Q307,961 223,930 V1104 Q374,1175 487,1276 Q600,1377 647,1472 H763 Z" fill="#000"/>
<text x="611.2" y="836.4" font-size="29.5" font-family="Liberation Serif, serif" text-anchor="start" fill="#000" >Δ</text>
<g transform="translate(40.7,689.8) rotate(-90)">
<text x="0" y="0" font-size="24.8" font-family="Liberation Sans, sans-serif" fill="#000">SHC [</text>
<path transform="translate(66.14,0.00) scale(0.01211,-0.01159)" d="M763,0 H583 V1147 Q518,1085 412.5,1023 Q307,961 223,930 V1104 Q374,1175 487,1276 Q600,1377 647,1472 H763 Z" fill="#000"/>
<text x="79.93" y="0" font-size="24.8" font-family="Liberation Sans, sans-serif" fill="#000">/8<tspan font-family="Liberation Serif, serif" font-size="26.5">π</tspan>]</text>
</g>
<text x="22.5" y="469.0" font-size="27" font-family="Liberation Sans, sans-serif" text-anchor="start" fill="#000" font-weight="bold">(a)</text>
<text x="346.00" y="490.4" font-size="21.2" font-family="Liberation Sans, sans-serif" fill="#000">T</text>
<rect x="359.78" y="486.37" width="10.73" height="1.59" fill="#000"/><rect x="359.78" y="482.13" width="10.73" height="1.59" fill="#000"/>
<text x="371.33" y="490.4" font-size="21.2" font-family="Liberation Sans, sans-serif" fill="#000">0.0</text>
<path transform="translate(400.80,490.40) scale(0.01035,-0.00991)" d="M763,0 H583 V1147 Q518,1085 412.5,1023 Q307,961 223,930 V1104 Q374,1175 487,1276 Q600,1377 647,1472 H763 Z" fill="#000"/>
<text x="510.2" y="477.4" font-size="23.5" font-family="Liberation Serif, serif" fill="#000">λ</text>
<rect x="522.54" y="473.31" width="10.88" height="1.61" fill="#000"/><rect x="522.54" y="469.01" width="10.88" height="1.61" fill="#000"/>
<text x="534.26" y="477.4" font-size="21.5" font-family="Liberation Sans, sans-serif" fill="#000">0.</text>
<path transform="translate(552.19,477.40) scale(0.01050,-0.01005)" d="M763,0 H583 V1147 Q518,1085 412.5,1023 Q307,961 223,930 V1104 Q374,1175 487,1276 Q600,1377 647,1472 H763 Z" fill="#000"/>
<text x="515.00" y="510.2" font-size="21" font-family="Liberation Sans, sans-serif" fill="#000">E</text>
<text x="529.01" y="517.0" font-size="13.5" font-family="Liberation Sans, sans-serif" fill="#000">F</text>
<rect x="537.77" y="506.21" width="10.63" height="1.57" fill="#000"/><rect x="537.77" y="502.01" width="10.63" height="1.58" fill="#000"/>
<path transform="translate(549.22,510.20) scale(0.01025,-0.00982)" d="M763,0 H583 V1147 Q518,1085 412.5,1023 Q307,961 223,930 V1104 Q374,1175 487,1276 Q600,1377 647,1472 H763 Z" fill="#000"/>
<text x="230.8" y="757.4" font-size="23.4" font-family="Liberation Sans, sans-serif" text-anchor="start" fill="#000" >total SHC</text>
<text x="393.6" y="539.8" font-size="22.6" font-family="Liberation Serif, serif" text-anchor="start" fill="#000" font-style="italic">I+IIa</text>
<text x="393.6" y="567.7" font-size="22.6" font-family="Liberation Serif, serif" text-anchor="start" fill="#000" font-style="italic">I+IIa</text>
<text x="450.3" y="567.7" font-size="22.6" font-family="Liberation Serif, serif" text-anchor="start" fill="#000" font-weight="bold">(numerical)</text>
<g transform="translate(202.0,517.8)" fill="#000"><path fill-rule="evenodd" d="M0,-9.35 a9.56,9.35 0 1,0 19.12,0 a9.56,9.35 0 1,0 -19.12,0 Z M4.05,-8.75 a5.3,7.2 8 1,1 10.6,0.1 a5.3,7.2 8 1,1 -10.6,-0.1 Z"/><rect x="8.5" y="-18.7" width="12.3" height="2.8"/></g>
<text x="224.5" y="502.3" font-size="22.9" font-family="Liberation Serif, serif" text-anchor="start" fill="#000" font-style="italic">IIa</text>
<text x="216.5" y="529.5" font-size="18" font-family="Liberation Serif, serif" text-anchor="start" fill="#000" font-style="italic">SH</text>
<g transform="translate(236.0,703.3)" fill="#000"><path fill-rule="evenodd" d="M0,-9.35 a9.56,9.35 0 1,0 19.12,0 a9.56,9.35 0 1,0 -19.12,0 Z M4.05,-8.75 a5.3,7.2 8 1,1 10.6,0.1 a5.3,7.2 8 1,1 -10.6,-0.1 Z"/><rect x="8.5" y="-18.7" width="12.3" height="2.8"/></g>
<text x="261.2" y="687.8" font-size="22.9" font-family="Liberation Serif, serif" text-anchor="start" fill="#000" font-style="italic">I</text>
<text x="252.8" y="710.7" font-size="18" font-family="Liberation Serif, serif" text-anchor="start" fill="#000" font-style="italic">SH</text>
<g transform="translate(123.3,795.0)" fill="#000"><path fill-rule="evenodd" d="M0,-9.35 a9.56,9.35 0 1,0 19.12,0 a9.56,9.35 0 1,0 -19.12,0 Z M4.05,-8.75 a5.3,7.2 8 1,1 10.6,0.1 a5.3,7.2 8 1,1 -10.6,-0.1 Z"/><rect x="8.5" y="-18.7" width="12.3" height="2.8"/></g>
<text x="144.3" y="781.9" font-size="22.9" font-family="Liberation Serif, serif" text-anchor="start" fill="#000" font-style="italic">IIb</text>
<text x="138.6" y="803.8" font-size="18" font-family="Liberation Serif, serif" text-anchor="start" fill="#000" font-style="italic">SH</text>
</svg>
</body></html>
